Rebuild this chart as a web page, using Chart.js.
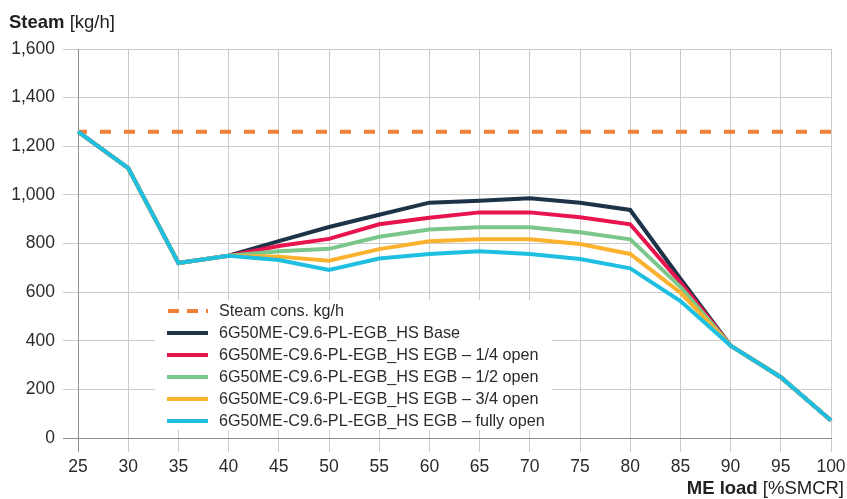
<!DOCTYPE html>
<html>
<head>
<meta charset="utf-8">
<script src="https://cdn.jsdelivr.net/npm/chart.js@4.4.1/dist/chart.umd.min.js"></script>
<style>
  html, body { margin: 0; padding: 0; background: #ffffff; }
  #wrap { position: relative; width: 847px; height: 499px; }
</style>
</head>
<body>
<div id="wrap"><canvas id="c" width="847" height="499"></canvas></div>
<script>
// ---- data ----
const categories = ['25','30','35','40','45','50','55','60','65','70','75','80','85','90','95','100'];
const steamCons  = [1260,1260,1260,1260,1260,1260,1260,1260,1260,1260,1260,1260,1260,1260,1260,1260];
const base       = [1260,1110,720,750,810,868,918,968,976,986,968,938,655,380,250,72];
const egbQuarter = [1260,1110,720,750,790,819,879,906,928,928,908,879,640,380,250,72];
const egbHalf    = [1260,1110,720,750,768,778,828,858,867,867,846,817,622,380,250,72];
const egbThreeQ  = [1260,1110,720,750,746,729,777,809,817,817,798,757,598,380,250,72];
const egbFull    = [1260,1110,720,750,732,691,738,757,768,757,736,698,563,380,250,72];
const yTicks     = [0,200,400,600,800,1000,1200,1400,1600];

const labels = [
  'Steam cons. kg/h',
  '6G50ME-C9.6-PL-EGB_HS Base',
  '6G50ME-C9.6-PL-EGB_HS EGB \u2013 1/4 open',
  '6G50ME-C9.6-PL-EGB_HS EGB \u2013 1/2 open',
  '6G50ME-C9.6-PL-EGB_HS EGB \u2013 3/4 open',
  '6G50ME-C9.6-PL-EGB_HS EGB \u2013 fully open'
];
const colors = ['#f27f35','#1c3348','#e8144e','#7bc78b','#fbb22e','#1fbfe2'];
const FONT = '"Liberation Sans", Arial, Helvetica, sans-serif';

function ds(i, data, extra) {
  return Object.assign({
    label: labels[i], data: data, borderColor: colors[i], backgroundColor: colors[i],
    borderWidth: 4, pointRadius: 0, pointHoverRadius: 0, tension: 0, fill: false,
    order: 6 - i
  }, extra || {});
}

const customDraw = {
  id: 'customDraw',
  beforeDatasetsDraw(chart) {
    const ctx = chart.ctx;
    const x0 = 155, y0 = 300, w = 397, h = 130;
    ctx.save();
    ctx.fillStyle = '#ffffff';
    ctx.fillRect(x0, y0, w, h);
    ctx.font = '16.2px ' + FONT;
    ctx.textBaseline = 'middle';
    ctx.textAlign = 'left';
    chart.data.datasets.forEach((d, i) => {
      const y = 311 + i * 22;
      ctx.beginPath();
      ctx.strokeStyle = d.borderColor;
      ctx.lineWidth = 4;
      if (d.borderDash) { ctx.setLineDash([11, 8]); ctx.lineDashOffset = -1; }
      else ctx.setLineDash([]);
      ctx.moveTo(167, y); ctx.lineTo(208, y);
      ctx.stroke();
      ctx.setLineDash([]);
      ctx.fillStyle = '#2b2b2b';
      ctx.fillText(d.label, 219, y + 1);
    });
    ctx.restore();
  },
  afterDraw(chart) {
    const ctx = chart.ctx;
    ctx.save();
    ctx.fillStyle = '#222222';
    ctx.textBaseline = 'alphabetic';
    ctx.textAlign = 'left';
    ctx.font = 'bold 18.5px ' + FONT;
    ctx.fillText('Steam', 9, 28);
    let w = ctx.measureText('Steam').width;
    ctx.font = '18.5px ' + FONT;
    ctx.fillText(' [kg/h]', 9 + w, 28);
    ctx.font = '18.5px ' + FONT;
    const t2 = ' [%SMCR]';
    const w2 = ctx.measureText(t2).width;
    ctx.font = 'bold 18.5px ' + FONT;
    const t1 = 'ME load';
    const w1 = ctx.measureText(t1).width;
    const xr = 844;
    ctx.fillText(t1, xr - w2 - w1, 494);
    ctx.font = '18.5px ' + FONT;
    ctx.fillText(t2, xr - w2, 494);
    ctx.restore();
  }
};

new Chart(document.getElementById('c'), {
  type: 'line',
  data: {
    labels: categories,
    datasets: [
      ds(0, steamCons, { borderDash: [11, 13], borderDashOffset: 2 }),
      ds(1, base),
      ds(2, egbQuarter),
      ds(3, egbHalf),
      ds(4, egbThreeQ),
      ds(5, egbFull)
    ]
  },
  options: {
    responsive: false,
    animation: false,
    events: [],
    layout: { padding: { top: 49, right: 16, bottom: 0, left: 0 } },
    plugins: { legend: { display: false }, tooltip: { enabled: false }, title: { display: false } },
    scales: {
      x: {
        type: 'category',
        offset: false,
        grid: {
          color: (c) => c.index === 0 ? '#8f8f8f' : '#cbcbcb',
          lineWidth: 1,
          tickLength: 14,
          drawTicks: true
        },
        border: { display: true, color: '#8f8f8f', width: 1 },
        ticks: { color: '#2b2b2b', font: { family: FONT, size: 17.5 }, padding: 5, maxRotation: 0, autoSkip: false },
        afterFit(s) { s.height = 61; s.paddingRight = 0; s.paddingLeft = 0; }
      },
      y: {
        min: 0, max: 1600,
        afterBuildTicks(s) { s.ticks = yTicks.map(v => ({ value: v })); },
        grid: {
          color: (c) => (c.tick && c.tick.value === 0) ? '#8f8f8f' : '#cbcbcb',
          lineWidth: 1,
          tickLength: 15,
          drawTicks: true
        },
        border: { display: true, color: '#8f8f8f', width: 1 },
        ticks: {
          color: '#2b2b2b', font: { family: FONT, size: 17.5 }, padding: 8,
          callback: (v) => Number(v).toLocaleString('en-US')
        },
        afterFit(s) { s.width = 78; s.paddingTop = 0; s.paddingBottom = 0; }
      }
    }
  },
  plugins: [customDraw]
});
</script>
</body>
</html>
